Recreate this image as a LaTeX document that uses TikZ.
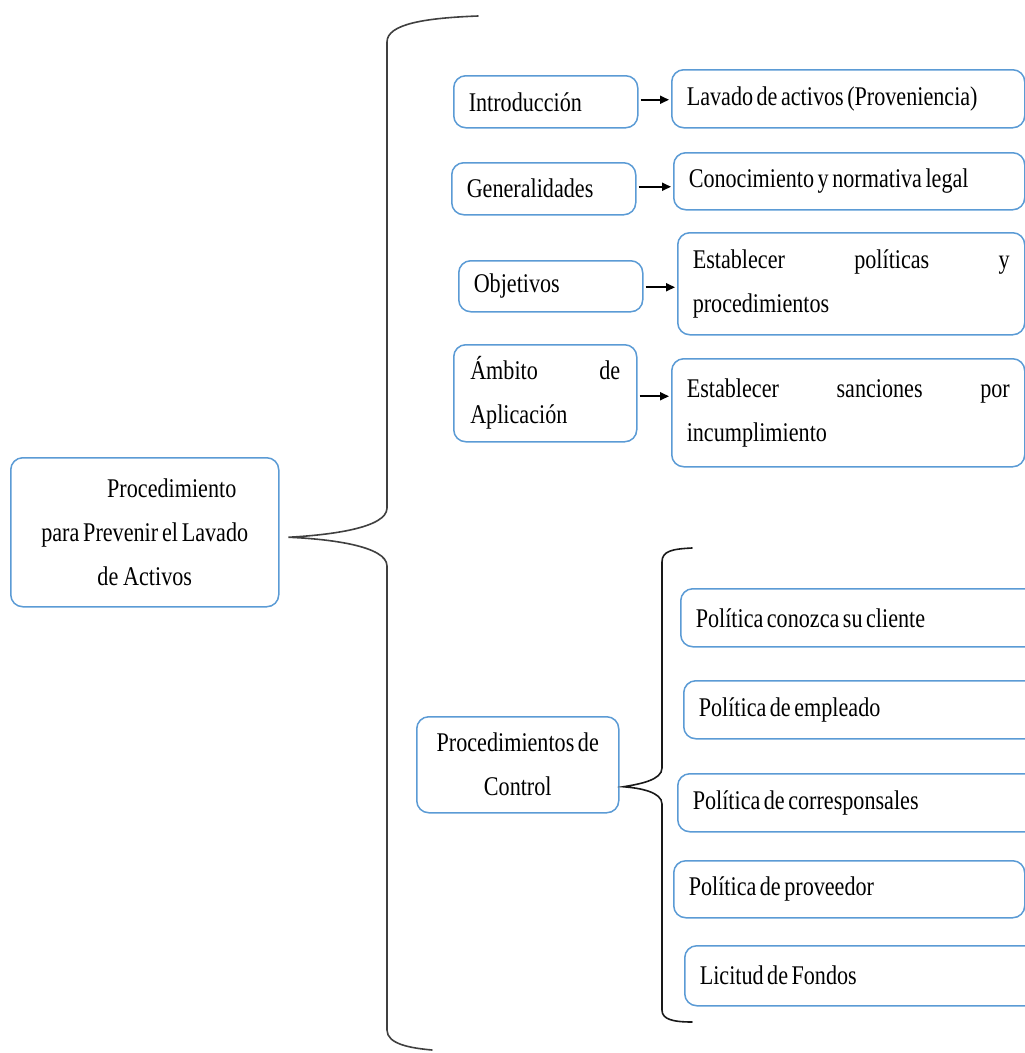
\documentclass[tikz,border=0pt]{standalone}
\usepackage{fontspec}
\setmainfont{Liberation Serif}[FakeStretch=0.82]
\newcommand{\boxfont}{\fontsize{27}{44}\selectfont}
\usetikzlibrary{arrows.meta,calc}
\definecolor{boxblue}{HTML}{5B9BD5}
\begin{document}
\begin{tikzpicture}[x=1pt,y=-1pt,
  box/.style={draw=boxblue, line width=1.5pt, rounded corners=12pt, fill=white,
    inner xsep=15pt, inner ysep=0pt, anchor=north west,
    font=\boxfont, execute at begin node={\spaceskip=3.5pt plus 1pt minus 1pt\xspaceskip=3.5pt plus 1pt\relax}},
  lbox/.style={box, align=left},
  jbox/.style={box, align=justify},
  arr/.style={-{Triangle[length=9pt,width=8pt]}, line width=1.8pt, black},
  brace/.style={line width=1.6pt, black!75, line cap=round}]
\useasboundingbox (0,0) rectangle (1025,1053);
\clip (0,0) rectangle (1025,1053);
% main node
\node[box, minimum width=268pt, minimum height=149pt, text width=238pt, align=center] (main) at (10,457)
  {\hspace*{54pt}Procedimiento\\para Prevenir el Lavado\\de Activos};
% upper branch
\node[lbox, minimum width=184pt, minimum height=52pt, text width=154pt] (intro) at (453,75) {Introducción};
\node[lbox, minimum width=353pt, minimum height=58pt, text width=323pt] (lavado) at (671,69) {Lavado de activos (Proveniencia)};
\node[lbox, minimum width=184pt, minimum height=52pt, text width=154pt] (gen) at (451,162) {Generalidades};
\node[lbox, minimum width=351pt, minimum height=57pt, text width=321pt] (cono) at (673,152) {Conocimiento y normativa legal};
\node[lbox, minimum width=184pt, minimum height=51pt, text width=154pt] (obj) at (458,260) {Objetivos};
\node[jbox, minimum width=347pt, minimum height=102pt, text width=317pt] (estpol) at (677,232) {Establecer políticas y\linebreak procedimientos};
\node[jbox, minimum width=183pt, minimum height=97pt, text width=150pt] (ambito) at (453,344) {Ámbito de\linebreak Aplicación};
\node[jbox, minimum width=353pt, minimum height=108pt, text width=323pt] (estsan) at (671,358) {Establecer sanciones por\linebreak incumplimiento};
% arrows
\draw[arr] ($(intro.east)+(2,-2)$) -- ($(intro.east -| lavado.west)+(-2,-2)$);
\draw[arr] ($(gen.east)+(2,-2)$) -- ($(gen.east -| cono.west)+(-2,-2)$);
\draw[arr] ($(obj.east)+(2,1)$) -- ($(obj.east -| estpol.west)+(-2,1)$);
\draw[arr] ($(ambito.east)+(2,3)$) -- ($(ambito.east -| estsan.west)+(-2,3)$);
% lower branch
\node[box, minimum width=202pt, minimum height=96pt, text width=172pt, align=center] (proc) at (416,716) {Procedimientos de\\Control};
\node[lbox, minimum width=370pt, minimum height=58pt, text width=340pt] (pc1) at (680,588) {Política conozca su cliente};
\node[lbox, minimum width=370pt, minimum height=58pt, text width=340pt] (pc2) at (683,680) {Política de empleado};
\node[lbox, minimum width=370pt, minimum height=58pt, text width=340pt] (pc3) at (677,773) {Política de corresponsales};
\node[lbox, minimum width=351pt, minimum height=57pt, text width=321pt] (pc4) at (673,860) {Política de proveedor};
\node[lbox, minimum width=370pt, minimum height=60pt, text width=340pt] (pc5) at (684,945) {Licitud de Fondos};
% outer brace
\coordinate (tipA) at ($(main.east)+(9,5)$);
\draw[brace] (478,16) .. controls (425,18) and (387,24) .. (387,42)
  -- (387,508) .. controls (387,528) and (330,535) .. (tipA)
  .. controls (330,539) and (387,546) .. (387,566)
  -- (387,1030) .. controls (387,1044) and (410,1048) .. (432,1050);
% inner brace
\coordinate (tipB) at ($(proc.east)+(4,22)$);
\draw[brace, black!90] (692,548) .. controls (672,549) and (662,551) .. (662,562)
  -- (662,768) .. controls (662,780) and (640,784) .. (tipB)
  .. controls (640,788) and (662,792) .. (662,804)
  -- (662,1010) .. controls (662,1019) and (672,1022) .. (692,1022);
\end{tikzpicture}
\end{document}
